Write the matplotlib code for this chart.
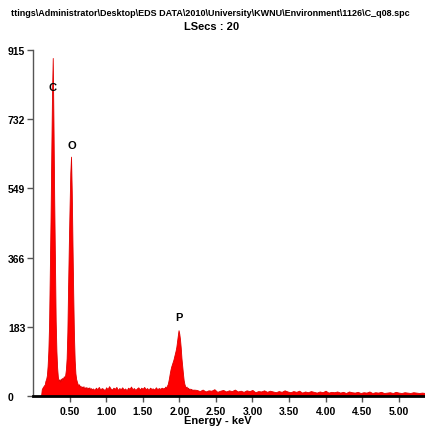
import numpy as np
import matplotlib
matplotlib.use("Agg")
import matplotlib.pyplot as plt

# spectrum counts
# 0.00 - 0.80 keV, 0.01 keV channels (C and O peaks)
counts_low = [0, 0, 0, 0, 0, 0, 0, 0, 0, 0,
              0, 0, 18, 22, 25, 28, 30, 40, 45, 55,
              80, 120, 190, 330, 470, 640, 800, 894, 720, 520,
              360, 200, 120, 75, 50, 40, 44, 38, 46, 41,
              48, 44, 52, 50, 55, 70, 100, 170, 290, 400,
              500, 590, 633, 540, 400, 270, 160, 95, 60, 45,
              38, 32, 28, 31, 24, 27, 21, 25, 22, 26,
              19, 23, 20, 24, 18, 22, 19, 23, 17, 21, 18]
# 0.82 - 1.78 keV, 0.02 keV channels
counts_mid = [20, 16, 22, 18, 24, 17, 21, 19, 15, 23,
              18, 26, 20, 17, 22, 19, 24, 16, 21, 18,
              23, 17, 20, 15, 22, 19, 25, 18, 21, 16,
              20, 23, 17, 22, 19, 24, 18, 21, 16, 22,
              19, 20, 17, 23, 18, 21, 19, 22, 20]
# 1.80 - 2.20 keV, 0.01 keV channels (P peak)
counts_p = [22, 25, 20, 27, 30, 38, 48, 60, 70, 78,
            84, 90, 96, 104, 112, 120, 130, 145, 160, 174,
            165, 150, 128, 100, 80, 60, 42, 32, 26, 22,
            25, 18, 22, 17, 20, 16, 19, 15, 18, 14, 17]
# 2.24 - 5.36 keV, 0.04 keV channels
counts_high = [16, 13, 17, 12, 15, 14, 18, 11, 14, 16,
               12, 15, 13, 17, 12, 14, 11, 15, 13, 16,
               10, 13, 12, 15, 11, 14, 12, 10, 13, 11,
               15, 12, 10, 13, 11, 14, 9, 12, 10, 13,
               11, 9, 12, 10, 14, 9, 11, 10, 12, 9,
               11, 8, 12, 10, 9, 11, 8, 10, 9, 12,
               8, 10, 9, 11, 8, 9, 10, 8, 11, 9,
               8, 10, 9, 8, 10, 9, 8, 9, 8]

peak_names = ["C", "O", "P"]
peak_energy = [0.27, 0.53, 1.99]
peak_label_y = [817, 665, 208]

yticks = [0, 183, 366, 549, 732, 915]
xticks = [0.5, 1.0, 1.5, 2.0, 2.5, 3.0, 3.5, 4.0, 4.5, 5.0]

title_path = r"ttings\Administrator\Desktop\EDS DATA\2010\University\KWNU\Environment\1126\C_q08.spc"
title_time = "LSecs : 20"

energy = np.concatenate([
    0.00 + 0.01 * np.arange(len(counts_low)),
    0.82 + 0.02 * np.arange(len(counts_mid)),
    1.80 + 0.01 * np.arange(len(counts_p)),
    2.24 + 0.04 * np.arange(len(counts_high)),
])
counts = np.array(counts_low + counts_mid + counts_p + counts_high, dtype=float)

# narrow bold look, falls back to whatever is there
plt.rcParams["font.family"] = ["Liberation Sans Narrow", "DejaVu Sans Condensed",
                               "Liberation Sans", "DejaVu Sans"]
plt.rcParams["font.weight"] = "bold"

fig = plt.figure(figsize=(4.25, 4.27), dpi=100)
ax = fig.add_axes([33 / 425, 30 / 427, 392 / 425, 346 / 427])

ax.fill_between(energy, 0, counts, color="#ff0000", linewidth=0.6, edgecolor="#e00000")

for name, e, ly in zip(peak_names, peak_energy, peak_label_y):
    ax.text(e, ly, name, ha="center", va="center", fontsize=8, fontweight="bold")

ax.set_xlim(0, 5.36)
ax.set_ylim(0, 915)
ax.set_yticks(yticks)
ax.set_yticklabels([str(v) for v in yticks])
ax.set_xticks(xticks)
ax.set_xticklabels([f"{v:.2f}" for v in xticks])
for lab in ax.get_yticklabels():
    lab.set_horizontalalignment("left")

ax.spines["top"].set_visible(False)
ax.spines["right"].set_visible(False)
ax.spines["left"].set_color("#555555")
ax.spines["left"].set_linewidth(1.0)
ax.spines["bottom"].set_color("black")
ax.spines["bottom"].set_linewidth(2.0)
ax.tick_params(axis="y", length=4, width=1, color="#555555", labelsize=7.5, pad=14)
ax.tick_params(axis="x", length=4, width=1, color="#555555", labelsize=7.5, pad=3)

ttl = fig.text(210 / 425, 1 - 14 / 427, title_path, ha="center", va="center", fontsize=8.5,
               fontweight="bold")
fig.text(212 / 425, 1 - 27 / 427, title_time, ha="center", va="center", fontsize=8,
         fontweight="bold")
fig.text(218 / 425, 6 / 427, "Energy - keV", ha="center", va="center", fontsize=8,
         fontweight="bold")

# shrink the long path line until it fits like in the original
r = fig.canvas.get_renderer()
size = 8.5
while ttl.get_window_extent(r).width > 412 and size > 5:
    size -= 0.25
    ttl.set_fontsize(size)

fig.savefig("out.png", dpi=100)
